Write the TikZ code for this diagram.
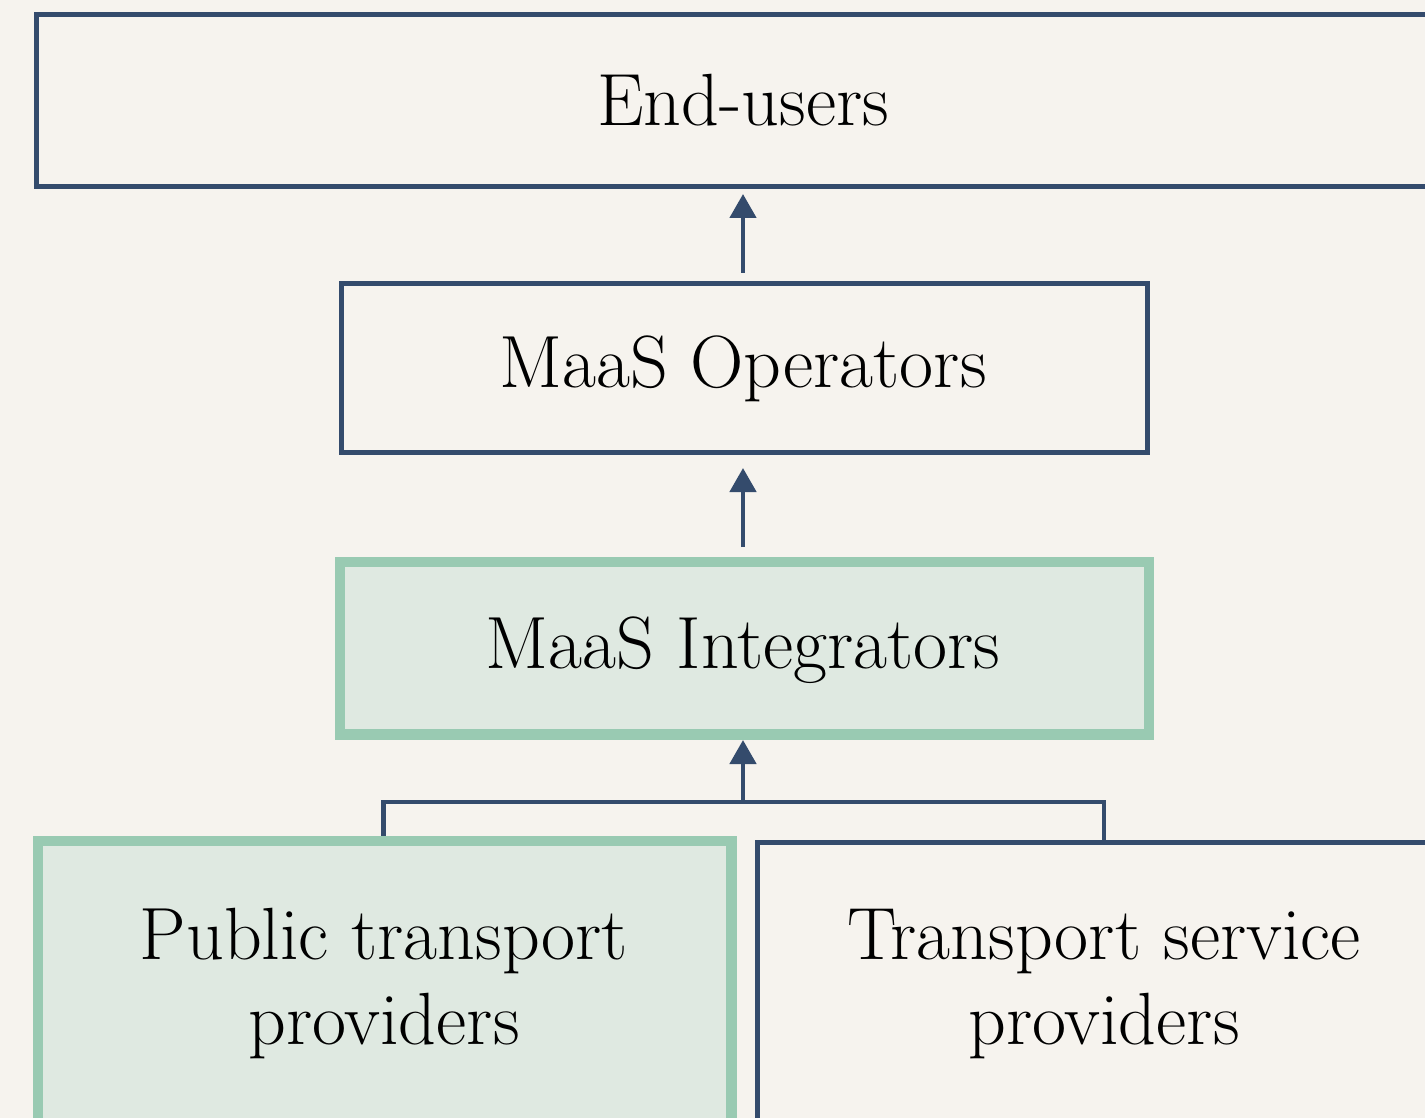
\documentclass[tikz,border=0pt]{standalone}
\usetikzlibrary{arrows.meta}
\definecolor{bg}{HTML}{F6F3EE}
\definecolor{navy}{HTML}{344B6C}
\definecolor{mint}{HTML}{99CAB2}
\definecolor{mintfill}{HTML}{DFE9E1}
\tikzset{
  bluebox/.style={draw=navy, line width=2.5pt, rectangle, inner sep=0pt, anchor=north west},
  greenbox/.style={draw=mint, fill=mintfill, line width=5.25pt, rectangle, inner sep=0pt, anchor=north west},
  lbl/.style={font=\fontsize{37}{42.5}\selectfont, align=center, inner sep=0pt},
  arr/.style={navy, line width=2.3pt, -{Triangle[length=12pt,width=13pt]}},
  link/.style={navy, line width=2.3pt},
}
\begin{document}
\begin{tikzpicture}[x=0.5pt,y=-0.5pt]
\useasboundingbox (0,0) rectangle (1425,1118);
\clip (0,0) rectangle (1425,1118);
\fill[bg] (0,0) rectangle (1425,1118);
% boxes (outer corner coordinates in px)
\node[bluebox, minimum width=740pt, minimum height=86pt] (eu) at (34,12) {};
\node[bluebox, minimum width=403pt, minimum height=84.5pt] (mo) at (339,281) {};
\node[greenbox, minimum width=404.5pt, minimum height=86.25pt] (mi) at (334.5,556.5) {};
\node[greenbox, minimum width=346.75pt, minimum height=200pt] (pt) at (32.5,835.5) {};
\node[bluebox, minimum width=400pt, minimum height=200pt] (ts) at (755,839.5) {};
% labels
\node[lbl] (teu) at (743,100) {End-users};
\node[lbl] (tmo) at (743,369) {MaaS Operators};
\node[lbl] (tmi) at (743,650) {MaaS Integrators};
\node[lbl] (tpt) at (384,984) {Public transport\\providers};
\node[lbl] (tts) at (1104,984) {Transport service\\providers};
% connectors
\coordinate (a1s) at (743,273);
\coordinate (a1e) at (743,194);
\coordinate (a2s) at (743,547);
\coordinate (a2e) at (743,468);
\coordinate (j) at (743,802);
\coordinate (a3e) at (743,740);
\coordinate (lp) at (383.5,802);
\coordinate (rp) at (1104,802);
\draw[arr] (a1s) -- (a1e);
\draw[arr] (a2s) -- (a2e);
\draw[arr] (j) -- (a3e);
\draw[link] (pt.north -| lp) -- (lp) -- (rp) -- (ts.north -| rp);
\end{tikzpicture}
\end{document}
